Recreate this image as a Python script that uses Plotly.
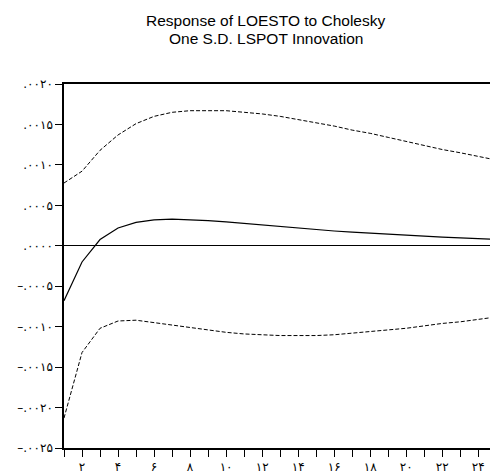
import plotly.graph_objects as go

periods = list(range(1, 26))
response = [-0.00068, -0.00020, 0.000077, 0.00022, 0.00029, 0.00032, 0.00033, 0.000325,
            0.000312, 0.000296, 0.000276, 0.000256, 0.000235, 0.000215, 0.000199, 0.000183,
            0.000168, 0.000154, 0.000142, 0.000130, 0.000118, 0.000107, 0.0000976, 0.000089, 0.00008]
upper = [0.000776, 0.000922, 0.00118, 0.00137, 0.00151, 0.00160, 0.00165, 0.00167,
         0.00167, 0.00167, 0.00165, 0.00163, 0.00160, 0.00156, 0.00152, 0.00148,
         0.00143, 0.00139, 0.00134, 0.00129, 0.00124, 0.00119, 0.00115, 0.00110, 0.00106]
lower = [-0.00213, -0.00132, -0.00102, -0.00093, -0.00092, -0.00095, -0.00098, -0.00101,
         -0.00104, -0.00107, -0.00109, -0.00110, -0.00111, -0.00111, -0.00111, -0.00110,
         -0.00108, -0.00106, -0.00104, -0.00102, -0.00099, -0.00096, -0.00094, -0.00091, -0.00088]

y_tick_vals = [0.0020, 0.0015, 0.0010, 0.0005, 0.0, -0.0005, -0.0010, -0.0015, -0.0020, -0.0025]
y_tick_text = [".۰۰۲۰", ".۰۰۱۵", ".۰۰۱۰", ".۰۰۰۵", ".۰۰۰۰",
               "–.۰۰۰۵", "–.۰۰۱۰", "–.۰۰۱۵", "–.۰۰۲۰", "–.۰۰۲۵"]
x_tick_vals = list(range(1, 25))
x_tick_text = ["", "۲", "", "۴", "", "۶", "", "۸", "", "۱۰", "", "۱۲",
               "", "۱۴", "", "۱۶", "", "۱۸", "", "۲۰", "", "۲۲", "", "۲۴"]

title_lines = ["Response of LOESTO to Cholesky", "One S.D. LSPOT Innovation"]

fig = go.Figure()
fig.add_trace(go.Scatter(x=periods, y=upper, mode="lines",
                         line=dict(color="black", width=1, dash="4px,2px"), showlegend=False))
fig.add_trace(go.Scatter(x=periods, y=lower, mode="lines",
                         line=dict(color="black", width=1, dash="4px,2px"), showlegend=False))
fig.add_trace(go.Scatter(x=periods, y=response, mode="lines",
                         line=dict(color="black", width=1.2), showlegend=False))

plot_top, plot_bottom = 84, 453
plot_h = plot_bottom - plot_top
for line, ypx in zip(title_lines, [19.5, 37.5]):
    fig.add_annotation(text=line, xref="paper", yref="paper",
                       x=(265.5 - 64) / 426, y=(plot_bottom - ypx) / plot_h,
                       xanchor="center", yanchor="middle", showarrow=False,
                       font=dict(family="Liberation Sans, Arial", size=15.5, color="black"))

fig.update_layout(
    width=490, height=474,
    margin=dict(l=64, r=0, t=84, b=21),
    paper_bgcolor="white", plot_bgcolor="white",
    font=dict(family="DejaVu Sans", color="black"),
)
fig.update_xaxes(range=[1, 24.65], tickmode="array", tickvals=x_tick_vals, ticktext=x_tick_text,
                 ticks="outside", ticklen=7, tickcolor="black", tickwidth=1,
                 showline=True, linecolor="black", linewidth=1.5, mirror=True,
                 showgrid=False, zeroline=False, tickfont=dict(size=12, family="DejaVu Sans"))
fig.update_yaxes(range=[-0.0025, 0.0020], tickmode="array", tickvals=y_tick_vals, ticktext=y_tick_text,
                 ticks="outside", ticklen=7, tickcolor="black", tickwidth=1,
                 showline=True, linecolor="black", linewidth=1.5, mirror=False,
                 showgrid=False, zeroline=True, zerolinecolor="black", zerolinewidth=1.2,
                 tickfont=dict(size=12, family="DejaVu Sans"))

fig.write_html("out.html")
